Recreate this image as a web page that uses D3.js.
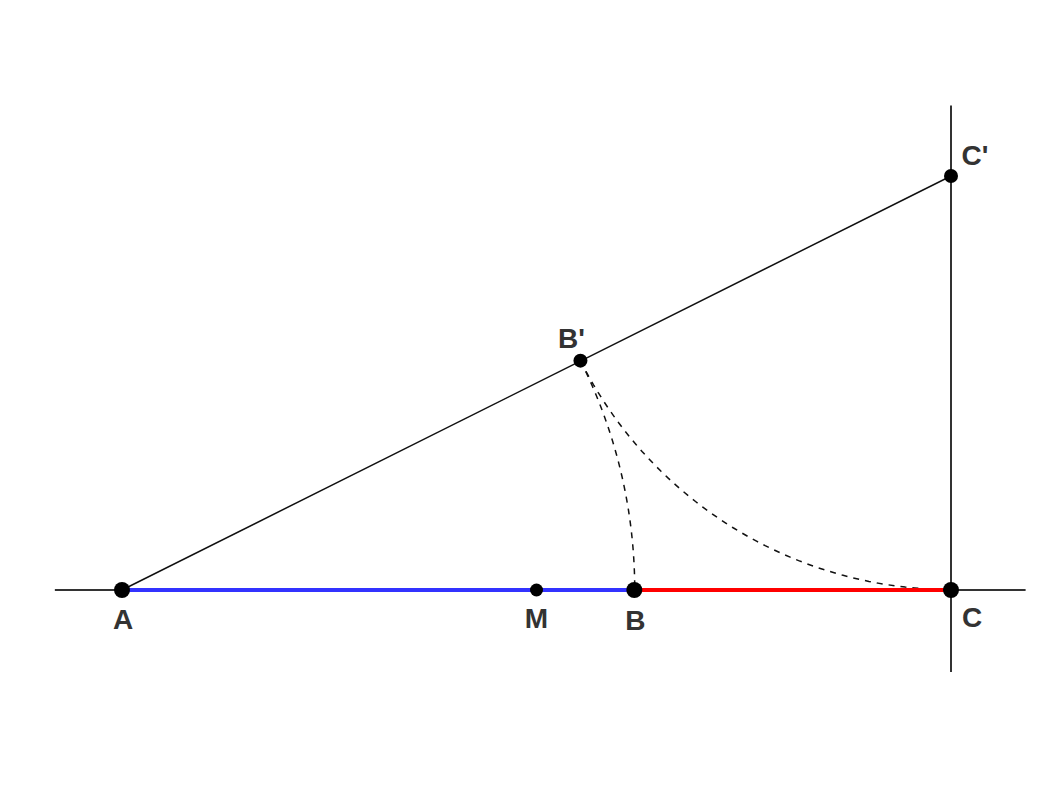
<!DOCTYPE html>
<html>
<head>
<meta charset="utf-8">
<script src="https://cdn.jsdelivr.net/npm/d3@7"></script>
<style>
  body { margin: 0; background: #fff; }
  text { font-family: "Liberation Sans", Arial, sans-serif; font-weight: bold; font-size: 28px; fill: #333; }
</style>
</head>
<body>
<svg id="chart"></svg>
<script>
// construction points (A..C on the base line, C' above C)
const pointNames = ["A", "M", "B", "C", "B'", "C'"];
const pointX = [0, 0.5, 0.618, 1, 0.553, 1];
const pointY = [0, 0, 0, 0, 0.277, 0.5];
const pointR = [8, 6.5, 8, 8, 7, 7];
const labelDx = [1, 0, 1, 21, -9, 24];
const labelDy = [39, 38, 40, 37, -13, -11];

const width = 1058, height = 794;

const svg = d3.select('#chart')
    .attr('width', width)
    .attr('height', height);

// same pixels per unit on both axes
const xScale = d3.scaleLinear().domain([0, 1]).range([122, 951]);
const yScale = d3.scaleLinear().domain([0, 0.5]).range([590, 176]);

const pt = name => {
    const i = pointNames.indexOf(name);
    return { x: pointX[i], y: pointY[i] };
};

const line = d3.line().x(d => xScale(d.x)).y(d => yScale(d.y));

// base line and perpendicular through C
svg.append('path')
    .attr('d', line([{ x: -0.081, y: 0 }, { x: 1.09, y: 0 }]))
    .attr('stroke', '#333').attr('stroke-width', 2).attr('fill', 'none');
svg.append('path')
    .attr('d', line([{ x: 1, y: -0.099 }, { x: 1, y: 0.585 }]))
    .attr('stroke', '#333').attr('stroke-width', 2).attr('fill', 'none');

// hypotenuse A - C'
svg.append('path')
    .attr('d', line([pt("A"), pt("C'")]))
    .attr('stroke', '#111').attr('stroke-width', 1.5).attr('fill', 'none');

// dashed arcs: centre C' through B' to C, centre A through B' to B
function arcPoints(center, from, to) {
    const r = Math.hypot(from.x - center.x, from.y - center.y);
    const a0 = Math.atan2(from.y - center.y, from.x - center.x);
    const a1 = Math.atan2(to.y - center.y, to.x - center.x);
    return d3.range(0, 1.0001, 0.02).map(t => {
        const a = a0 + (a1 - a0) * t;
        return { x: center.x + r * Math.cos(a), y: center.y + r * Math.sin(a) };
    });
}

svg.append('path')
    .attr('d', line(arcPoints(pt("C'"), pt("B'"), pt("C"))))
    .attr('stroke', '#111').attr('stroke-width', 1.5)
    .attr('stroke-dasharray', '6,6').attr('fill', 'none');
svg.append('path')
    .attr('d', line(arcPoints(pt("A"), pt("B'"), pt("B"))))
    .attr('stroke', '#111').attr('stroke-width', 1.5)
    .attr('stroke-dasharray', '6,6').attr('fill', 'none');

// golden sections
svg.append('path')
    .attr('d', line([pt("A"), pt("B")]))
    .attr('stroke', '#3333ff').attr('stroke-width', 4).attr('fill', 'none');
svg.append('path')
    .attr('d', line([pt("B"), pt("C")]))
    .attr('stroke', '#ff0000').attr('stroke-width', 4).attr('fill', 'none');

// points
svg.selectAll('circle.pt')
    .data(pointNames)
    .join('circle')
        .attr('class', 'pt')
        .attr('cx', (d, i) => xScale(pointX[i]))
        .attr('cy', (d, i) => yScale(pointY[i]))
        .attr('r', (d, i) => pointR[i])
        .attr('fill', '#000');

// labels
svg.selectAll('text.label')
    .data(pointNames)
    .join('text')
        .attr('class', 'label')
        .attr('x', (d, i) => xScale(pointX[i]) + labelDx[i])
        .attr('y', (d, i) => yScale(pointY[i]) + labelDy[i])
        .attr('text-anchor', 'middle')
        .text(d => d);
</script>
</body>
</html>
